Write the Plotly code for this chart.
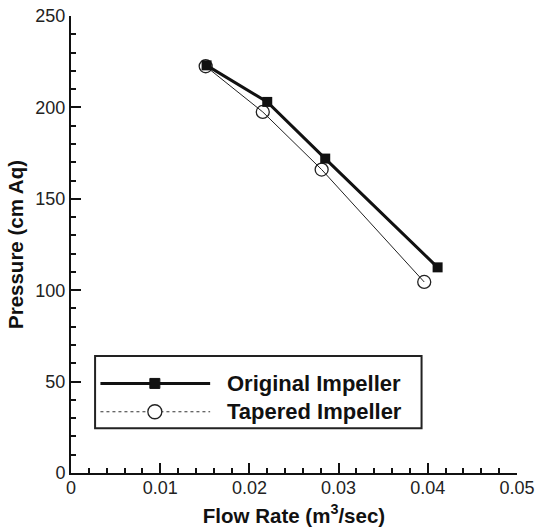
import plotly.graph_objects as go

flow_original = [0.0152, 0.0220, 0.0285, 0.0411]
pressure_original = [223, 203, 172, 112.5]
flow_tapered = [0.0151, 0.0215, 0.0281, 0.0396]
pressure_tapered = [222.5, 197.5, 166, 104.5]
series_names = ["Original Impeller", "Tapered Impeller"]
x_ticks = [0, 0.01, 0.02, 0.03, 0.04, 0.05]
x_tick_labels = ["0", "0.01", "0.02", "0.03", "0.04", "0.05"]
y_ticks = [0, 50, 100, 150, 200, 250]
y_tick_labels = ["0", "50", "100", "150", "200", "250"]

FONT = "Arial, Liberation Sans"

fig = go.Figure()
fig.add_trace(go.Scatter(x=flow_tapered, y=pressure_tapered, mode="lines+markers",
                         name=series_names[1],
                         line=dict(color="#222", width=1),
                         marker=dict(symbol="circle-open", size=13, color="#222", line=dict(width=1.3))))
fig.add_trace(go.Scatter(x=flow_original, y=pressure_original, mode="lines+markers",
                         name=series_names[0],
                         line=dict(color="#111", width=3),
                         marker=dict(symbol="square", size=10, color="#111")))

# manual legend (box, sample lines, markers, labels)
lx0, lx1, ly0, ly1 = 0.0027, 0.0393, 24.5, 64
ya, yb = 49, 33.5
fig.add_shape(type="rect", xref="x", yref="y", x0=lx0, x1=lx1, y0=ly0, y1=ly1,
              line=dict(color="#222", width=2), fillcolor="white", layer="above")
fig.add_shape(type="line", xref="x", yref="y", x0=0.0033, x1=0.0156, y0=ya, y1=ya,
              line=dict(color="#111", width=3), layer="above")
fig.add_shape(type="line", xref="x", yref="y", x0=0.0033, x1=0.0156, y0=yb, y1=yb,
              line=dict(color="#333", width=1, dash="dot"), layer="above")
fig.add_shape(type="rect", xref="x", yref="y", xsizemode="pixel", ysizemode="pixel",
              xanchor=0.0094, yanchor=ya, x0=-5, x1=5, y0=-5, y1=5,
              fillcolor="#111", line=dict(color="#111", width=1), layer="above")
fig.add_shape(type="circle", xref="x", yref="y", xsizemode="pixel", ysizemode="pixel",
              xanchor=0.0094, yanchor=yb, x0=-7, x1=7, y0=-7, y1=7,
              fillcolor="white", line=dict(color="#222", width=1.3), layer="above")
fig.add_annotation(x=0.0173, y=ya, xref="x", yref="y", text="<b>" + series_names[0] + "</b>",
                   showarrow=False, xanchor="left", yanchor="middle",
                   font=dict(family=FONT, size=22, color="#111"))
fig.add_annotation(x=0.0173, y=yb, xref="x", yref="y", text="<b>" + series_names[1] + "</b>",
                   showarrow=False, xanchor="left", yanchor="middle",
                   font=dict(family=FONT, size=22, color="#111"))

axis_common = dict(showline=True, linecolor="#111", linewidth=2, ticks="inside",
                   ticklen=10, tickwidth=2, tickcolor="#111", showgrid=False, zeroline=False,
                   automargin=False,
                   tickfont=dict(family=FONT, size=18, color="#222"))
fig.update_xaxes(range=[0, 0.05], tickmode="array", tickvals=x_ticks, ticktext=x_tick_labels,
                 ticklabelstandoff=-3,
                 minor=dict(ticks="inside", dtick=0.002, ticklen=5, tickwidth=1.5, tickcolor="#111"),
                 title=dict(text="<b>Flow Rate (m<sup>3</sup>/sec)</b>", standoff=12,
                            font=dict(family=FONT, size=20.5, color="#111")),
                 **axis_common)
fig.update_yaxes(range=[0, 250], tickmode="array", tickvals=y_ticks, ticktext=y_tick_labels,
                 minor=dict(ticks="inside", dtick=10, ticklen=5, tickwidth=1.5, tickcolor="#111"),
                 title=dict(text="<b>Pressure (cm Aq)</b>", standoff=6,
                            font=dict(family=FONT, size=20.5, color="#111")),
                 **axis_common)
fig.update_layout(width=535, height=532, margin=dict(l=71, r=18, t=16, b=59),
                  plot_bgcolor="white", paper_bgcolor="white", showlegend=False)
fig.write_html("out.html", config={"displayModeBar": False},
               post_script="document.body.style.margin='0';document.body.style.overflow='hidden';")
